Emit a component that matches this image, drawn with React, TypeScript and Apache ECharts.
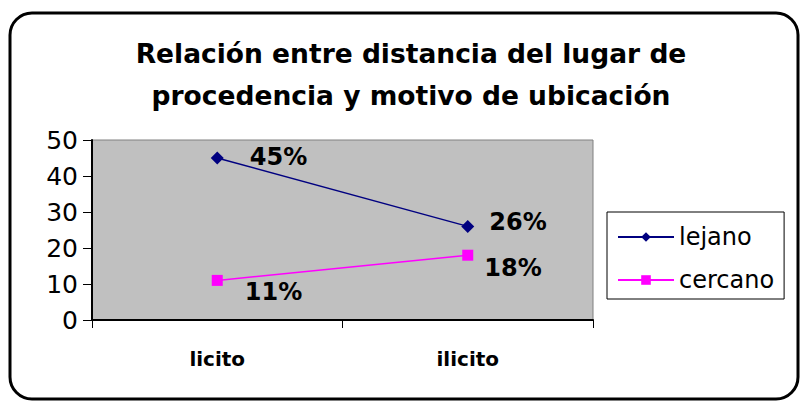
import React, { useEffect, useRef } from "react";
import * as echarts from "echarts";

const categories = ["licito", "ilicito"];
const lejano = [45, 26];
const cercano = [11, 18];
const lejanoLabels = ["45%", "26%"];
const cercanoLabels = ["11%", "18%"];
const yTicks = [0, 10, 20, 30, 40, 50];
const titleLines = ["Relación entre distancia del lugar de", "procedencia y motivo de ubicación"];

export default function App() {
  const ref = useRef<HTMLDivElement>(null);
  useEffect(() => {
    if (!ref.current) return;
    const chart = echarts.init(ref.current, null, { renderer: "svg" });
    const font = "DejaVu Sans";
    const labelBase = {
      show: true,
      position: "right",
      fontFamily: font,
      fontSize: 24,
      fontWeight: "bold",
      color: "#000",
    };
    chart.setOption({
      animation: false,
      backgroundColor: "#fff",
      graphic: [
        {
          type: "rect",
          shape: { x: 10, y: 13, width: 788, height: 386, r: 22 },
          style: { fill: "none", stroke: "#000", lineWidth: 3 },
          z: 100,
        },
        {
          type: "text",
          x: 411,
          y: 53,
          style: {
            text: titleLines[0],
            fontFamily: font,
            fontSize: 26.5,
            fontWeight: "bold",
            fill: "#000",
            textAlign: "center",
            textVerticalAlign: "middle",
          },
        },
        {
          type: "text",
          x: 411,
          y: 95,
          style: {
            text: titleLines[1],
            fontFamily: font,
            fontSize: 26.5,
            fontWeight: "bold",
            fill: "#000",
            textAlign: "center",
            textVerticalAlign: "middle",
          },
        },
      ],
      grid: {
        left: 92,
        top: 140,
        width: 501,
        height: 180,
        show: true,
        backgroundColor: "#C0C0C0",
        borderColor: "#808080",
        borderWidth: 1,
        containLabel: false,
      },
      legend: {
        orient: "vertical",
        left: 607,
        top: 212,
        padding: [12, 10, 6, 10],
        itemWidth: 56,
        itemHeight: 12,
        itemGap: 17,
        borderColor: "#000",
        borderWidth: 1,
        textStyle: { fontFamily: font, fontSize: 24, color: "#000", lineHeight: 26 },
        data: ["lejano", "cercano"],
      },
      xAxis: {
        type: "category",
        data: categories,
        boundaryGap: true,
        axisLine: { show: true, lineStyle: { color: "#000", width: 2 } },
        axisTick: { show: true, length: 8, lineStyle: { color: "#000", width: 1 } },
        axisLabel: {
          margin: 29,
          fontFamily: font,
          fontSize: 20,
          fontWeight: "bold",
          color: "#000",
        },
        splitLine: { show: false },
      },
      yAxis: {
        type: "value",
        min: yTicks[0],
        max: yTicks[yTicks.length - 1],
        interval: 10,
        axisLine: { show: true, lineStyle: { color: "#000", width: 2 } },
        axisTick: { show: true, length: 9, lineStyle: { color: "#000", width: 1 } },
        axisLabel: { margin: 14, fontFamily: font, fontSize: 25, color: "#000" },
        splitLine: { show: false },
      },
      series: [
        {
          name: "lejano",
          type: "line",
          data: lejano.map((v, i) => ({
            value: v,
            label: {
              ...labelBase,
              formatter: lejanoLabels[i],
              distance: i === 0 ? 26 : 15,
              offset: [0, i === 0 ? -1 : -4],
            },
          })),
          color: "#000080",
          symbol: "diamond",
          symbolSize: 13,
          showSymbol: true,
          lineStyle: { color: "#000080", width: 1.5 },
          itemStyle: { color: "#000080" },
        },
        {
          name: "cercano",
          type: "line",
          data: cercano.map((v, i) => ({
            value: v,
            label: {
              ...labelBase,
              formatter: cercanoLabels[i],
              distance: i === 0 ? 22 : 11,
              offset: [0, i === 0 ? 12 : 13],
            },
          })),
          color: "#FF00FF",
          symbol: "rect",
          symbolSize: 11,
          showSymbol: true,
          lineStyle: { color: "#FF00FF", width: 1.5 },
          itemStyle: { color: "#FF00FF" },
        },
      ],
    });
    return () => chart.dispose();
  }, []);
  return <div ref={ref} style={{ width: 800, height: 401, position: "absolute", left: 0, top: 0 }} />;
}
